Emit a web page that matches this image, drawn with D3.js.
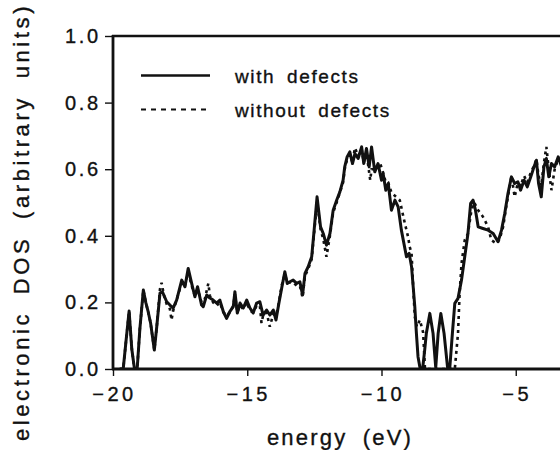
<!DOCTYPE html>
<html>
<head>
<meta charset="utf-8">
<script src="https://cdn.jsdelivr.net/npm/d3@7"></script>
<style>
  body { margin: 0; background: #fff; }
  svg { display: block; font-family: "Liberation Sans", Arial, sans-serif; }
  text { stroke: #111; stroke-width: 0.35px; }
</style>
</head>
<body>
<svg id="dos" width="560" height="450"></svg>
<script>
// with defects (solid curve)
const energyWith = [-19.75,-19.62,-19.52,-19.40,-19.30,-19.20,-19.10,-19.00,-18.87,-18.78,-18.69,-18.60,-18.46,-18.37,-18.25,-18.16,-18.00,-17.88,-17.76,-17.63,-17.44,-17.32,-17.20,-17.07,-16.95,-16.85,-16.70,-16.64,-16.51,-16.39,-16.27,-16.14,-16.02,-15.89,-15.77,-15.65,-15.52,-15.46,-15.37,-15.27,-15.15,-15.02,-14.90,-14.78,-14.65,-14.53,-14.41,-14.28,-14.16,-14.03,-13.93,-13.82,-13.72,-13.60,-13.51,-13.41,-13.29,-13.16,-13.04,-12.94,-12.85,-12.73,-12.60,-12.52,-12.40,-12.27,-12.17,-12.05,-11.92,-11.80,-11.67,-11.55,-11.43,-11.37,-11.28,-11.18,-11.08,-10.99,-10.87,-10.74,-10.66,-10.56,-10.46,-10.37,-10.25,-10.13,-10.00,-9.94,-9.84,-9.75,-9.63,-9.50,-9.38,-9.26,-9.07,-8.97,-8.88,-8.82,-8.76,-8.70,-8.64,-8.57,-8.47,-8.40,-8.33,-8.20,-8.08,-7.98,-7.89,-7.79,-7.67,-7.54,-7.46,-7.36,-7.27,-7.15,-7.02,-6.90,-6.78,-6.68,-6.59,-6.50,-6.40,-6.22,-6.03,-5.84,-5.66,-5.53,-5.41,-5.29,-5.16,-5.04,-4.92,-4.82,-4.69,-4.57,-4.44,-4.32,-4.23,-4.15,-4.05,-3.95,-3.86,-3.77,-3.67,-3.55,-3.42,-3.30];
const dosWith = [0,0,0.08,0.174,0.06,0,0,0.12,0.237,0.20,0.172,0.138,0.057,0.127,0.228,0.232,0.202,0.192,0.183,0.207,0.267,0.247,0.302,0.257,0.217,0.247,0.192,0.187,0.222,0.213,0.207,0.198,0.207,0.172,0.152,0.172,0.187,0.232,0.168,0.198,0.183,0.207,0.183,0.168,0.198,0.202,0.162,0.177,0.162,0.177,0.147,0.198,0.242,0.292,0.257,0.262,0.267,0.257,0.262,0.222,0.287,0.307,0.337,0.407,0.517,0.427,0.407,0.372,0.407,0.477,0.507,0.532,0.567,0.607,0.637,0.652,0.617,0.647,0.632,0.667,0.617,0.662,0.607,0.667,0.592,0.617,0.567,0.587,0.537,0.557,0.477,0.507,0.487,0.417,0.337,0.347,0.307,0.247,0.187,0.107,0.037,0.005,0,0.05,0.107,0.167,0.107,0.005,0.107,0.167,0.107,0.005,0,0.107,0.197,0.212,0.267,0.337,0.407,0.497,0.507,0.477,0.427,0.422,0.417,0.407,0.382,0.417,0.467,0.527,0.577,0.557,0.562,0.537,0.567,0.547,0.577,0.607,0.627,0.557,0.517,0.607,0.632,0.577,0.617,0.607,0.637,0.61];

// without defects (dotted curve)
const energyWithout = [-19.75,-19.62,-19.52,-19.40,-19.30,-19.20,-19.10,-19.00,-18.87,-18.78,-18.69,-18.60,-18.46,-18.37,-18.25,-18.19,-18.10,-18.00,-17.88,-17.82,-17.76,-17.63,-17.44,-17.32,-17.20,-17.07,-16.95,-16.85,-16.70,-16.58,-16.45,-16.39,-16.27,-16.14,-16.02,-15.89,-15.77,-15.65,-15.52,-15.46,-15.37,-15.27,-15.15,-15.02,-14.90,-14.78,-14.65,-14.53,-14.47,-14.41,-14.28,-14.16,-14.03,-13.93,-13.82,-13.72,-13.60,-13.51,-13.41,-13.29,-13.16,-13.04,-12.94,-12.85,-12.73,-12.60,-12.52,-12.40,-12.27,-12.17,-12.05,-11.92,-11.80,-11.67,-11.55,-11.43,-11.37,-11.28,-11.18,-11.08,-10.99,-10.87,-10.74,-10.66,-10.56,-10.42,-10.37,-10.25,-10.13,-10.06,-9.94,-9.84,-9.75,-9.63,-9.50,-9.32,-9.13,-9.01,-8.95,-8.88,-8.82,-8.76,-8.68,-8.57,-8.45,-8.38,-7.27,-7.15,-7.09,-7.02,-6.90,-6.78,-6.65,-6.55,-6.48,-6.40,-6.22,-6.03,-5.91,-5.72,-5.60,-5.47,-5.35,-5.22,-5.16,-5.04,-4.92,-4.82,-4.69,-4.57,-4.44,-4.32,-4.23,-4.15,-4.05,-3.95,-3.86,-3.77,-3.67,-3.55,-3.42,-3.30];
const dosWithout = [0,0,0.08,0.174,0.06,0,0,0.12,0.237,0.20,0.172,0.138,0.057,0.127,0.24,0.259,0.22,0.195,0.18,0.147,0.175,0.207,0.26,0.25,0.29,0.25,0.22,0.24,0.20,0.21,0.257,0.22,0.20,0.19,0.20,0.17,0.16,0.17,0.19,0.225,0.17,0.19,0.18,0.20,0.175,0.17,0.19,0.19,0.138,0.16,0.17,0.127,0.165,0.16,0.20,0.25,0.285,0.26,0.26,0.26,0.25,0.25,0.215,0.28,0.30,0.33,0.40,0.50,0.42,0.39,0.337,0.40,0.47,0.50,0.53,0.56,0.60,0.63,0.645,0.62,0.664,0.64,0.66,0.62,0.65,0.567,0.60,0.60,0.61,0.62,0.59,0.56,0.56,0.53,0.52,0.507,0.437,0.397,0.367,0.347,0.247,0.157,0.127,0.147,0.11,0,0,0.107,0.227,0.317,0.387,0.407,0.477,0.50,0.49,0.477,0.457,0.427,0.387,0.377,0.39,0.427,0.49,0.55,0.58,0.517,0.56,0.55,0.58,0.56,0.59,0.61,0.63,0.58,0.55,0.62,0.667,0.60,0.537,0.60,0.63,0.62];

const xTicks = [-20, -15, -10, -5];
const yTicks = [0, 0.2, 0.4, 0.6, 0.8, 1.0];
const legendLabels = ["with defects", "without defects"];

const svg = d3.select("#dos"),
    margin = {top: 36, left: 113},
    plotW = 537, // frame runs past the right edge of the picture
    plotH = 333;

const x = d3.scaleLinear().domain([-20, 0]).range([margin.left, margin.left + plotW]);
const y = d3.scaleLinear().domain([0, 1]).range([margin.top + plotH, margin.top]);

svg.append("clipPath").attr("id", "clip")
  .append("rect")
  .attr("x", margin.left).attr("y", margin.top - 2)
  .attr("width", plotW).attr("height", plotH + 2);

const line = d3.line().x(d => x(d[0])).y(d => y(d[1]));

// dotted curve first, solid on top
svg.append("path")
  .datum(d3.zip(energyWithout, dosWithout))
  .attr("clip-path", "url(#clip)")
  .attr("d", line)
  .attr("fill", "none")
  .attr("stroke", "#111")
  .attr("stroke-width", 2.6)
  .attr("stroke-dasharray", "3,4");

svg.append("path")
  .datum(d3.zip(energyWith, dosWith))
  .attr("clip-path", "url(#clip)")
  .attr("d", line)
  .attr("fill", "none")
  .attr("stroke", "#111")
  .attr("stroke-width", 3)
  .attr("stroke-linejoin", "round");

const ls = 2.6;

// x axis
const gx = svg.append("g")
  .attr("transform", "translate(0," + (margin.top + plotH) + ")")
  .call(d3.axisBottom(x).tickValues(xTicks).tickSize(7).tickPadding(11)
    .tickFormat(d => d < 0 ? "\u2212" + Math.abs(d) : d));
gx.select(".domain").remove();
gx.selectAll("line").attr("stroke", "#111").attr("stroke-width", 1.4);
gx.selectAll("text")
  .attr("font-size", 20).attr("fill", "#111")
  .style("letter-spacing", "3.5px")
  .attr("dx", 1);

// y axis
const gy = svg.append("g")
  .attr("transform", "translate(" + margin.left + ",0)")
  .call(d3.axisLeft(y).tickValues(yTicks).tickSize(8).tickPadding(7)
    .tickFormat(d3.format(".1f")));
gy.select(".domain").remove();
gy.selectAll("line").attr("stroke", "#111").attr("stroke-width", 1.4);
gy.selectAll("text")
  .attr("font-size", 20).attr("fill", "#111")
  .style("letter-spacing", ls + "px")
  .attr("dx", ls);

// frame: left, bottom, top
svg.append("line")
  .attr("x1", margin.left).attr("x2", margin.left)
  .attr("y1", margin.top - 1).attr("y2", margin.top + plotH + 1)
  .attr("stroke", "#111").attr("stroke-width", 2.8);
svg.append("line")
  .attr("x1", margin.left - 1).attr("x2", margin.left + plotW)
  .attr("y1", margin.top + plotH).attr("y2", margin.top + plotH)
  .attr("stroke", "#111").attr("stroke-width", 3.2);
svg.append("line")
  .attr("x1", margin.left - 1).attr("x2", margin.left + plotW)
  .attr("y1", margin.top).attr("y2", margin.top)
  .attr("stroke", "#111").attr("stroke-width", 2.6);

// axis titles
svg.append("text")
  .attr("x", 340)
  .attr("y", 445)
  .attr("text-anchor", "middle")
  .attr("font-size", 22)
  .attr("fill", "#111")
  .style("letter-spacing", "2.2px")
  .style("word-spacing", "7px")
  .text("energy (eV)");

svg.append("text")
  .attr("transform", "rotate(-90)")
  .attr("x", -222)
  .attr("y", 29)
  .attr("text-anchor", "middle")
  .attr("font-size", 22)
  .attr("fill", "#111")
  .style("letter-spacing", "3.6px")
  .style("word-spacing", "7px")
  .text("electronic DOS (arbitrary units)");

// legend
const legend = svg.append("g");
legendLabels.forEach((lab, i) => {
  const ly = 75.5 + i * 34;
  legend.append("line")
    .attr("x1", 141).attr("x2", 210)
    .attr("y1", ly).attr("y2", ly)
    .attr("stroke", "#111")
    .attr("stroke-width", i == 0 ? 2.6 : 2.2)
    .attr("stroke-dasharray", i == 0 ? null : "5,5");
  legend.append("text")
    .attr("x", 235)
    .attr("y", ly + 7)
    .attr("font-size", 19)
    .attr("fill", "#111")
    .style("letter-spacing", "1.6px")
    .style("word-spacing", "5px")
    .text(lab);
});
</script>
</body>
</html>
